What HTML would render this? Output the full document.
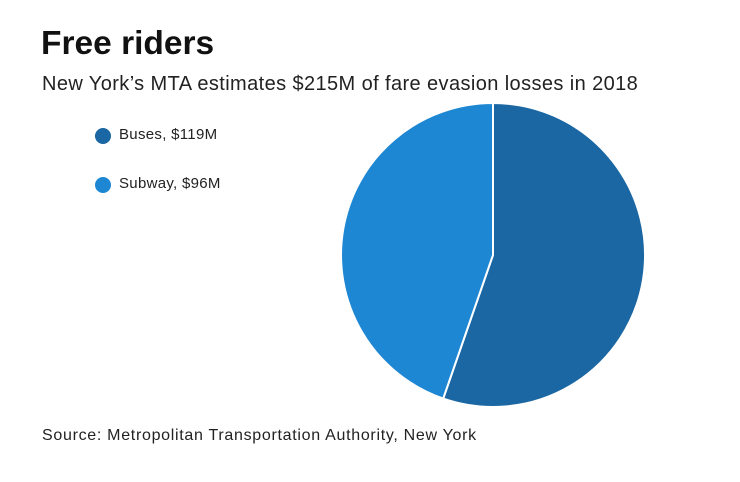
<!DOCTYPE html>
<html><head><style>
body{margin:0;background:#fff;width:740px;height:482px;overflow:hidden;font-family:"Liberation Sans",sans-serif;color:#222}
.t{position:absolute;white-space:nowrap}
</style></head><body>
<div class="t" style="left:41px;top:25px;font-size:33.5px;font-weight:bold;color:#111">Free riders</div>
<div class="t" style="left:42px;top:73px;font-size:20px;letter-spacing:0.4px;color:#222">New York’s MTA estimates $215M of fare evasion losses in 2018</div>
<svg width="740" height="482" style="position:absolute;left:0;top:0">
<circle cx="103" cy="136" r="8" fill="#1a67a3"/>
<circle cx="103" cy="185" r="8" fill="#1e87d4"/>
<path d="M493,255 L493,103 A152,152 0 1 1 443.2,398.6 Z" fill="#1a67a3" stroke="#fff" stroke-width="2"/>
<path d="M493,255 L443.2,398.6 A152,152 0 0 1 493,103 Z" fill="#1e87d4" stroke="#fff" stroke-width="2"/>
</svg>
<div class="t" style="left:119px;top:126px;font-size:15px;letter-spacing:0.3px">Buses, $119M</div>
<div class="t" style="left:119px;top:175px;font-size:15px;letter-spacing:0.3px">Subway, $96M</div>
<div class="t" style="left:42px;top:427px;font-size:16px;letter-spacing:0.7px">Source: Metropolitan Transportation Authority, New York</div>
</body></html>
